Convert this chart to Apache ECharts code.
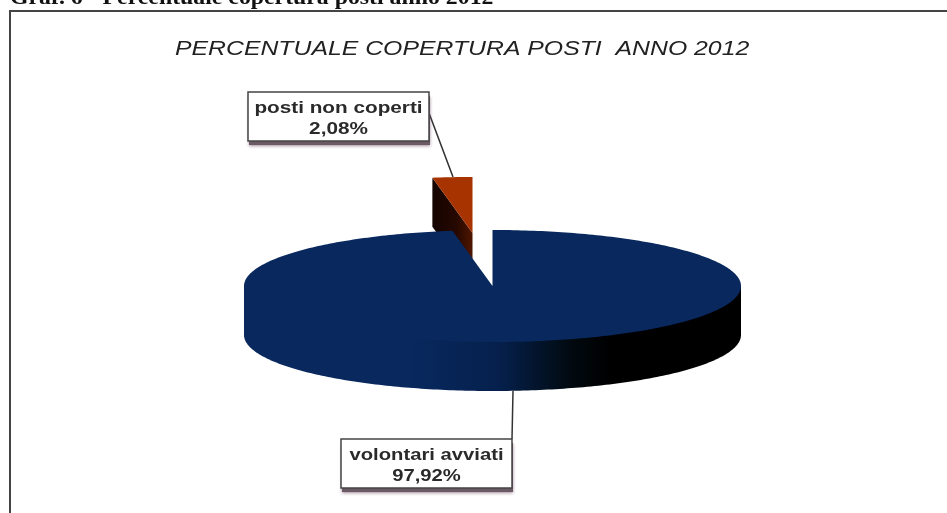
<!DOCTYPE html>
<html><head><meta charset="utf-8">
<style>html,body{margin:0;padding:0;background:#fff}#c{width:947px;height:513px;filter:blur(0.45px)}</style>
<script src="https://cdn.jsdelivr.net/npm/echarts@6/dist/echarts.min.js"></script>
</head><body><div id="c"></div>
<script>
const categories = ['posti non coperti', 'volontari avviati'];
const values = [2.08, 97.92];
const chartTitle = 'PERCENTUALE COPERTURA POSTI  ANNO 2012';
const caption = 'Graf. 6 - Percentuale copertura posti anno 2012';

const P = {cx: 492.5, cy: 286, rx: 248.5, ry: 56, depth: 49, explode: [-20, -53], smallSliceGain: 1.24};
const boxes = [
  {x: 248, y: 92, w: 181, h: 49, from: [429, 113], to: [453, 177], sx: 1.22},
  {x: 341, y: 439, w: 171, h: 49, from: [512, 439], to: [513, 391], sx: 1.19}
];
const chart = echarts.init(document.getElementById('c'));

function pt(a, ox, oy) {
  return [P.cx + ox + P.rx * Math.sin(a), P.cy + oy - P.ry * Math.cos(a)];
}
function arc(a0, a1, ox, oy) {
  const n = Math.max(4, Math.ceil(Math.abs(a1 - a0) * 60)), out = [];
  for (let i = 0; i <= n; i++) out.push(pt(a0 + (a1 - a0) * i / n, ox, oy));
  return out;
}
function renderItem(params, api) {
  const i = params.dataIndex;
  const total = values.reduce((s, v) => s + v, 0);
  const small = values[0] / total * Math.PI * 2 * P.smallSliceGain;
  const kids = [];
  if (i === 0) {
    const ox = P.explode[0], oy = P.explode[1];
    const outer = pt(-small, ox, oy), apex = [P.cx + ox, P.cy + oy];
    kids.push({type: 'polygon', shape: {points: [outer, apex, [apex[0], apex[1] + P.depth], [outer[0], outer[1] + P.depth]]},
      style: {fill: new echarts.graphic.LinearGradient(outer[0], 0, apex[0], 0, [
        {offset: 0, color: '#140400'}, {offset: 0.6, color: '#260800'}, {offset: 1, color: '#501600'}], true)}});
    kids.push({type: 'polygon', shape: {points: [apex].concat(arc(-small, 0, ox, oy))}, style: {fill: '#a63300'}});
  } else {
    const end = Math.PI * 2 - small;
    const wallBot = arc(Math.PI / 2, Math.PI * 1.5, 0, P.depth);
    const wallPts = [pt(Math.PI / 2, 0, 0)].concat(wallBot, [pt(Math.PI * 1.5, 0, 0)]);
    kids.push({type: 'polygon', shape: {points: wallPts},
      style: {fill: new echarts.graphic.LinearGradient(0, 0, 947, 0, [
        {offset: 0, color: '#08285e'}, {offset: 410 / 947, color: '#08285e'},
        {offset: 500 / 947, color: '#05204c'}, {offset: 570 / 947, color: '#010a10'},
        {offset: 610 / 947, color: '#000000'}, {offset: 1, color: '#000000'}], true)}});
    kids.push({type: 'polygon', shape: {points: [[P.cx, P.cy]].concat(arc(0, end, 0, 0))}, style: {fill: '#08285e'}});
  }
  const b = boxes[i];
  kids.push({type: 'line', shape: {x1: b.from[0], y1: b.from[1], x2: b.to[0], y2: b.to[1]}, style: {stroke: '#333', lineWidth: 1.5}});
  kids.push({type: 'rect', shape: {x: b.x + 1, y: b.y + 4, width: b.w, height: b.h}, style: {fill: '#6b5a66', shadowBlur: 3, shadowColor: 'rgba(120,90,110,0.7)', shadowOffsetY: 1}});
  kids.push({type: 'rect', shape: {x: b.x, y: b.y, width: b.w, height: b.h}, style: {fill: '#fff', stroke: '#444', lineWidth: 1.5}});
  const label = categories[i] + '\n' + String(api.value(0)).replace('.', ',') + '%';
  kids.push({type: 'text', x: b.x + b.w / 2, y: b.y + b.h / 2 + 2, scaleX: b.sx, style: {x: 0, y: 0, text: label, textAlign: 'center', textVerticalAlign: 'middle',
    fontFamily: 'Liberation Sans', fontWeight: 'bold', fontSize: 17, lineHeight: 21, fill: '#2a2a2a'}});
  return {type: 'group', children: kids};
}
chart.setOption({
  animation: false,
  backgroundColor: '#fff',
  graphic: [
    {type: 'polyline', shape: {points: [[10, 513], [10, 11], [947, 11]]}, style: {fill: null, stroke: '#444', lineWidth: 2}},
    {type: 'text', x: 10, y: -11, scaleX: 1.19, style: {x: 0, y: 0, text: caption, fontFamily: 'Liberation Serif', fontWeight: 'bold', fontSize: 20, fill: '#111'}},
    {type: 'text', x: 175, y: 39, scaleX: 1.24, style: {x: 0, y: 0, text: chartTitle, fontFamily: 'Liberation Sans', fontStyle: 'italic', fontSize: 20, fill: '#222'}}
  ],
  series: [{type: 'custom', coordinateSystem: 'none', silent: true, renderItem: renderItem,
    data: values.map((v, i) => ({value: [v], name: categories[i]}))}]
});
</script></body></html>
